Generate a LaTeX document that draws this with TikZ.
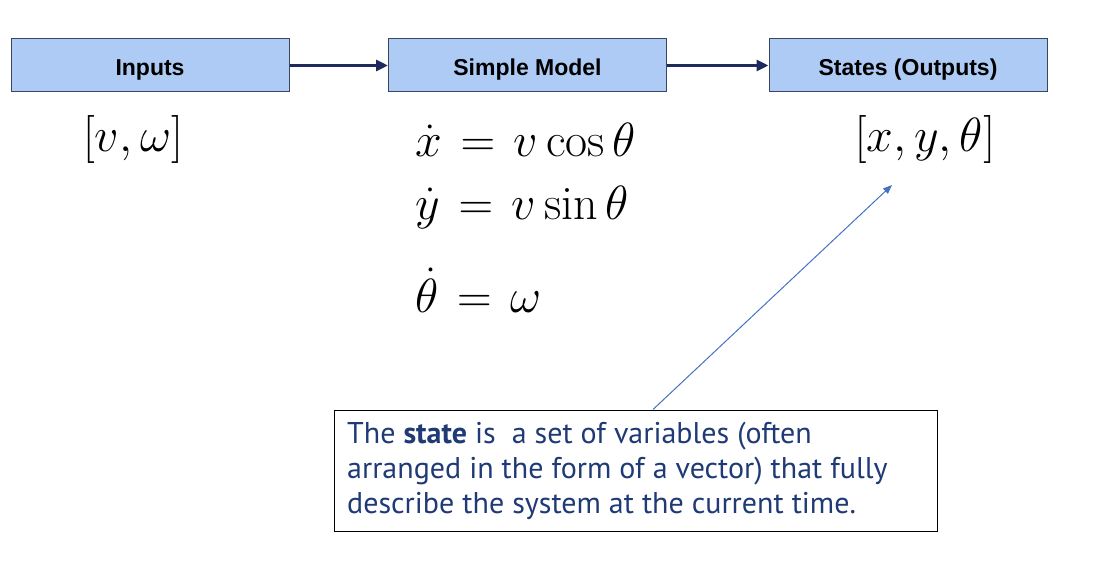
\RequirePackage{fix-cm}
\documentclass[tikz,border=0pt]{standalone}
\usepackage{amsmath}
\usepackage{fontspec}
\newfontfamily\boxfont{Liberation Sans}
\newfontfamily\notefont{PT Sans}
\usetikzlibrary{arrows.meta}
\definecolor{boxfill}{HTML}{AECBF5}
\definecolor{boxline}{HTML}{3A4660}
\definecolor{navy}{HTML}{1F2A5C}
\definecolor{pointer}{HTML}{4472C4}
\definecolor{notetext}{HTML}{1F3A75}
\tikzset{
  blockbox/.style={draw=boxline, line width=1pt, fill=boxfill, minimum width=278pt, minimum height=53pt, inner sep=0pt, text height=20pt, text depth=0pt, font=\boxfont\bfseries\fontsize{23}{26}\selectfont},
  flow/.style={draw=navy, line width=3pt, -{Triangle[length=12pt,width=11pt]}},
  eqn/.style={inner sep=0pt, font=\fontsize{48}{52}\selectfont},
  notebox/.style={draw=black, line width=1pt, fill=white, minimum width=603pt, minimum height=121pt, inner sep=0pt},
  pointline/.style={draw=pointer, line width=1pt, -{Triangle[length=9pt,width=7pt]}}
}
\newcommand{\wideq}{\mathrel{\mkern2mu=\mkern2mu}}
\begin{document}
\begin{tikzpicture}[x=1pt,y=-1pt]
\useasboundingbox (0,0) rectangle (1100,561);
\node[blockbox] (inp) at (150,65.5) {Inputs};
\node[blockbox] (mod) at (527.5,65.5) {Simple Model};
\node[blockbox] (sta) at (908,65.5) {States (Outputs)};
\draw[flow] (inp.east) -- (mod.west);
\draw[flow] (mod.east) -- (sta.west);
\node[eqn] (u) at (133,140) {$[v,\omega]$};
\node[eqn, anchor=west] (e1) at (415,140) {$\dot x \wideq v\cos\theta$};
\node[eqn, anchor=west] (e2) at (415,208) {$\dot y \wideq v\sin\theta$};
\node[eqn, anchor=west] (e3) at (415,290) {$\dot \theta \wideq \omega$};
\node[eqn] (s) at (925,140) {$[x,y,\theta]$};
\node[notebox] (note) at (635.5,470.5) {};
\node[anchor=north west, align=left, inner sep=0pt, text=notetext, font=\notefont\fontsize{30}{35}\selectfont] (notetxt) at (347,422) {The \textbf{state} is\ \ a set of variables (often\\arranged in the form of a vector) that fully\\describe the system at the current time.};
\coordinate (tip) at (892,185);
\draw[pointline] (note.north -| 653,0) -- (tip);
\end{tikzpicture}
\end{document}
